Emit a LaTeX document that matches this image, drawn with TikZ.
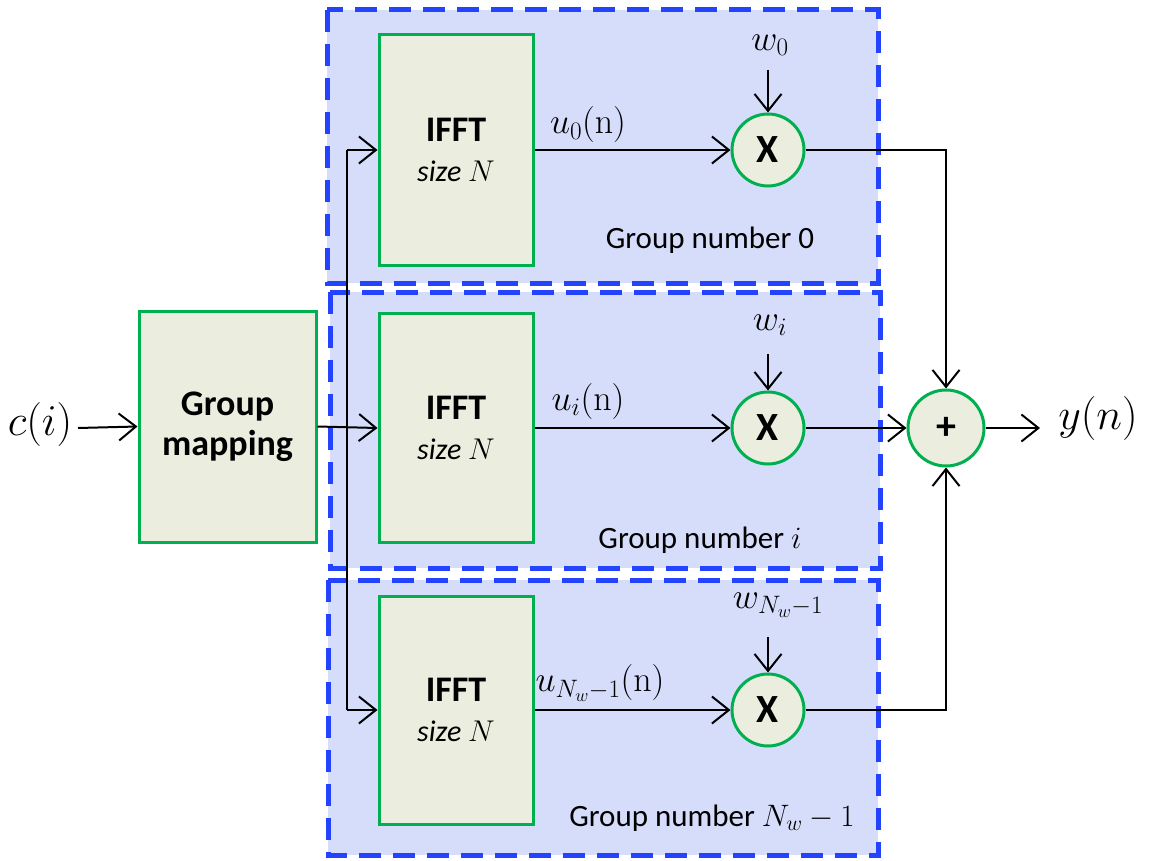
\documentclass[tikz,border=0pt]{standalone}
\usepackage{fix-cm}
\usepackage[no-math]{fontspec}
\setmainfont{Carlito}
\usetikzlibrary{arrows.meta}
\definecolor{grpblue}{HTML}{2343FF}
\definecolor{grpfill}{HTML}{D6DDFB}
\definecolor{boxgreen}{HTML}{00B050}
\definecolor{boxfill}{HTML}{EBEEDF}
\begin{document}
\begin{tikzpicture}[x=1pt,y=-1pt,
  grp/.style={draw=grpblue,fill=grpfill,line width=5pt,dash pattern=on 22pt off 12pt},
  blk/.style={draw=boxgreen,fill=boxfill,line width=3pt,rectangle,inner sep=0pt,align=center},
  opc/.style={draw=boxgreen,fill=boxfill,line width=3pt,circle,inner sep=0pt,minimum size=72pt,
    font=\fontsize{40}{46}\selectfont\bfseries},
  wire/.style={line width=2pt},
  arr/.style={line width=2pt,-{Straight Barb[length=17pt,width=27pt,line width=2pt]}},
  btxt/.style={font=\fontsize{36}{42}\selectfont},
  gtxt/.style={font=\fontsize{31}{36}\selectfont},
  mtxt/.style={font=\fontsize{36}{42}\selectfont},
  ltxt/.style={font=\fontsize{44}{50}\selectfont}]
\useasboundingbox (0,0) rectangle (1154,861);
% group frames
\draw[grp] (327,10) rectangle (878,283);
\draw[grp] (330,292) rectangle (880,568);
\draw[grp] (328,580) rectangle (878,855);
% blocks
\node[blk,minimum width=177pt,minimum height=231pt,btxt] (gm) at (227.5,426.5) {\bfseries Group\\[-2pt]\bfseries mapping};
\node[blk,minimum width=154pt,minimum height=230pt,btxt] (f0) at (456,150) {\bfseries IFFT\\[-2pt]{\fontsize{30}{36}\selectfont\itshape size $N$}};
\node[blk,minimum width=154pt,minimum height=229pt,btxt] (f1) at (456,428) {\bfseries IFFT\\[-2pt]{\fontsize{30}{36}\selectfont\itshape size $N$}};
\node[blk,minimum width=154pt,minimum height=228pt,btxt] (f2) at (456,710) {\bfseries IFFT\\[-2pt]{\fontsize{30}{36}\selectfont\itshape size $N$}};
\node[opc] (m0) at (768,150) {X};
\node[opc] (m1) at (768,428) {X};
\node[opc] (m2) at (768,710) {X};
\node[opc,minimum size=76pt] (pl) at (946,428) {+};
% texts
\node[ltxt] (cin) at (40,424) {$c(i)$};
\node[ltxt] (yn) at (1098,418) {$y(n)$};
\node[mtxt] (u0) at (588,125) {$u_0(\mathrm{n})$};
\node[mtxt] (u1) at (588,401) {$u_i(\mathrm{n})$};
\node[mtxt] (u2) at (600,683) {$u_{N_w-1}(\mathrm{n})$};
\node[mtxt] (w0) at (770,45) {$w_0$};
\node[mtxt] (w1) at (770,325) {$w_i$};
\node[mtxt] (w2) at (778,605) {$w_{N_w-1}$};
\node[gtxt] (g0) at (710,240) {Group number 0};
\node[gtxt] (g1) at (700,540) {Group number $i$};
\node[gtxt] (g2) at (712,818) {Group number $N_w-1$};
% coordinates
\coordinate (cs) at (78,428);
\coordinate (bt) at (347,150);
\coordinate (bb) at (347,710);
\coordinate (w0s) at (768,70);
\coordinate (w1s) at (768,354);
\coordinate (w2s) at (768,637);
\coordinate (ye) at (1040,428);
% connectors
\draw[arr] (cs) -- (gm.west);
\draw[arr] (gm.east) -- (f1.west);
\draw[wire] (bt) -- (bb);
\draw[arr] (bt) -- (f0.west);
\draw[arr] (bb) -- (f2.west);
\draw[arr] (f0.east) -- (m0.west);
\draw[arr] (f1.east) -- (m1.west);
\draw[arr] (f2.east) -- (m2.west);
\draw[arr] (w0s) -- (m0.north);
\draw[arr] (w1s) -- (m1.north);
\draw[arr] (w2s) -- (m2.north);
\draw[arr] (m0.east) -| (pl.north);
\draw[arr] (m1.east) -- (pl.west);
\draw[arr] (m2.east) -| (pl.south);
\draw[arr] (pl.east) -- (ye);
\end{tikzpicture}
\end{document}
